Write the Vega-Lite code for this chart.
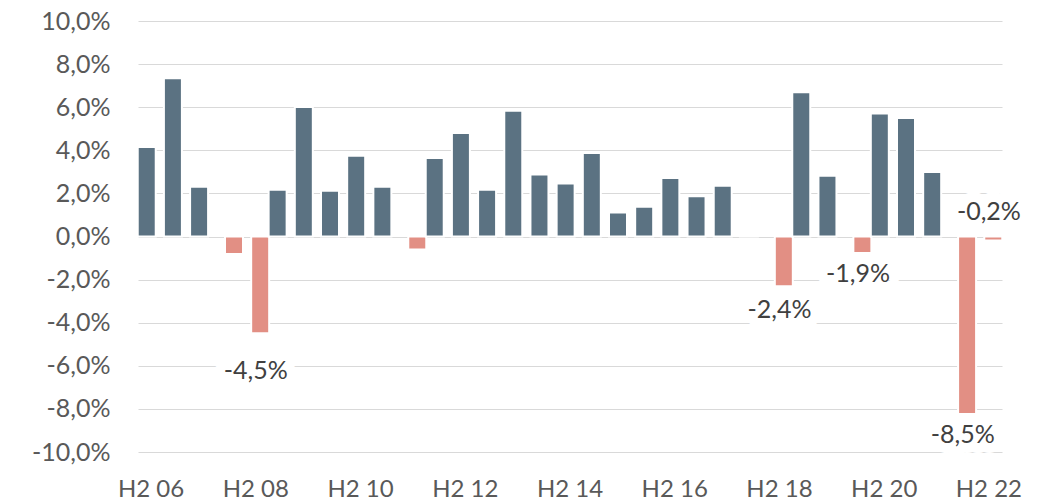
{
  "$schema": "https://vega.github.io/schema/vega-lite/v6.json",
  "width": 864,
  "height": 431,
  "autosize": "none",
  "padding": {"left": 138, "top": 21, "right": 51, "bottom": 49},
  "config": {
    "view": {"stroke": null},
    "font": "Lato",
    "locale": {"number": {"decimal": ",", "thousands": " ", "grouping": [3], "currency": ["", " €"], "minus": "-"}}
  },
  "datasets": {
    "bars": [
      {"period": "H2 06", "value": 0.0415, "series": "pos"},
      {"period": "H1 07", "value": 0.0734, "series": "pos"},
      {"period": "H2 07", "value": 0.0231, "series": "pos"},
      {"period": "H1 08", "value": -0.0081, "series": "neg"},
      {"period": "H2 08", "value": -0.0449, "series": "neg"},
      {"period": "H1 09", "value": 0.0217, "series": "pos"},
      {"period": "H2 09", "value": 0.0601, "series": "pos"},
      {"period": "H1 10", "value": 0.0212, "series": "pos"},
      {"period": "H2 10", "value": 0.0375, "series": "pos"},
      {"period": "H1 11", "value": 0.0231, "series": "pos"},
      {"period": "H2 11", "value": -0.006, "series": "neg"},
      {"period": "H1 12", "value": 0.0364, "series": "pos"},
      {"period": "H2 12", "value": 0.048, "series": "pos"},
      {"period": "H1 13", "value": 0.0217, "series": "pos"},
      {"period": "H2 13", "value": 0.0584, "series": "pos"},
      {"period": "H1 14", "value": 0.0288, "series": "pos"},
      {"period": "H2 14", "value": 0.0246, "series": "pos"},
      {"period": "H1 15", "value": 0.0387, "series": "pos"},
      {"period": "H2 15", "value": 0.0111, "series": "pos"},
      {"period": "H1 16", "value": 0.0138, "series": "pos"},
      {"period": "H2 16", "value": 0.0272, "series": "pos"},
      {"period": "H1 17", "value": 0.0187, "series": "pos"},
      {"period": "H2 17", "value": 0.0235, "series": "pos"},
      {"period": "H1 18", "value": 0.0005, "series": "pos"},
      {"period": "H2 18", "value": -0.0231, "series": "neg"},
      {"period": "H1 19", "value": 0.0669, "series": "pos"},
      {"period": "H2 19", "value": 0.0282, "series": "pos"},
      {"period": "H1 20", "value": -0.0077, "series": "neg"},
      {"period": "H2 20", "value": 0.0571, "series": "pos"},
      {"period": "H1 21", "value": 0.055, "series": "pos"},
      {"period": "H2 21", "value": 0.0299, "series": "pos"},
      {"period": "H1 22", "value": -0.0824, "series": "neg"},
      {"period": "H2 22", "value": -0.0019, "series": "neg"}
    ],
    "labels": [
      {"period": "H2 08", "y": -0.0625, "text": "-4,5%"},
      {"period": "H2 18", "y": -0.034, "text": "-2,4%"},
      {"period": "H1 20", "y": -0.0175, "text": "-1,9%"},
      {"period": "H1 22", "y": -0.092, "text": "-8,5%"},
      {"period": "H2 22", "y": 0.0115, "text": "-0,2%"}
    ]
  },
  "encoding": {
    "x": {
      "field": "period",
      "type": "nominal",
      "scale": {
        "domain": ["H2 06","H1 07","H2 07","H1 08","H2 08","H1 09","H2 09","H1 10","H2 10","H1 11","H2 11","H1 12","H2 12","H1 13","H2 13","H1 14","H2 14","H1 15","H2 15","H1 16","H2 16","H1 17","H2 17","H1 18","H2 18","H1 19","H2 19","H1 20","H2 20","H1 21","H2 21","H1 22","H2 22"],
        "paddingInner": 0,
        "paddingOuter": 0
      },
      "axis": {
        "title": null,
        "values": ["H2 06","H2 08","H2 10","H2 12","H2 14","H2 16","H2 18","H2 20","H2 22"],
        "labelAngle": 0,
        "domain": false,
        "ticks": false,
        "grid": false,
        "labelPadding": 25,
        "labelFontSize": 24,
        "labelColor": "#595959",
        "labelFont": "Lato"
      }
    }
  },
  "layer": [
    {
      "data": {"name": "bars"},
      "mark": {"type": "bar", "width": 18, "stroke": "white", "strokeWidth": 2},
      "encoding": {
        "xOffset": {
          "field": "series",
          "type": "nominal",
          "scale": {"domain": ["pos", "neg"], "paddingOuter": 0.5, "paddingInner": 0}
        },
        "y": {
          "field": "value",
          "type": "quantitative",
          "scale": {"domain": [-0.1, 0.1], "nice": false},
          "axis": {
            "title": null,
            "values": [-0.1, -0.08, -0.06, -0.04, -0.02, 0, 0.02, 0.04, 0.06, 0.08, 0.1],
            "format": ".1%",
            "domain": false,
            "ticks": false,
            "grid": true,
            "gridColor": "#d9d9d9",
            "gridWidth": 1,
            "labelPadding": 28,
            "labelFontSize": 25,
            "labelColor": "#595959",
            "labelFont": "Lato"
          }
        },
        "color": {
          "field": "series",
          "type": "nominal",
          "scale": {"domain": ["pos", "neg"], "range": ["#5b7282", "#e28f84"]},
          "legend": null
        }
      }
    },
    {
      "data": {"name": "labels"},
      "mark": {"type": "text", "fontSize": 25, "font": "Lato", "fill": "white", "stroke": "white", "strokeWidth": 20, "strokeJoin": "round", "baseline": "middle"},
      "encoding": {
        "y": {"field": "y", "type": "quantitative"},
        "text": {"field": "text"}
      }
    },
    {
      "data": {"name": "labels"},
      "mark": {"type": "text", "fontSize": 25, "font": "Lato", "color": "#404040", "baseline": "middle"},
      "encoding": {
        "y": {"field": "y", "type": "quantitative"},
        "text": {"field": "text"}
      }
    }
  ]
}
